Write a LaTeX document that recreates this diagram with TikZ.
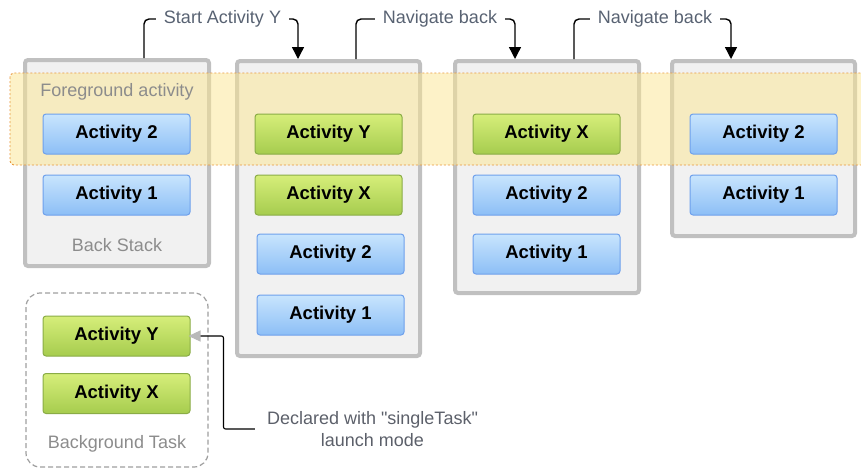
\documentclass[tikz,border=0pt]{standalone}
\usepackage{fontspec}
\setmainfont{Liberation Sans}[Ligatures=TeXOff]
\usetikzlibrary{arrows.meta,calc}
\definecolor{bluetop}{RGB}{200,229,253}
\definecolor{bluebot}{RGB}{140,190,246}
\definecolor{blueline}{RGB}{110,160,236}
\definecolor{greentop}{RGB}{214,238,122}
\definecolor{greenbot}{RGB}{166,204,78}
\definecolor{greenline}{RGB}{138,172,70}
\definecolor{stackgray}{RGB}{192,192,192}
\definecolor{stackfill}{RGB}{241,241,241}
\definecolor{bandfill}{RGB}{252,230,145}
\definecolor{bandline}{RGB}{232,150,60}
\definecolor{lblgray}{RGB}{140,140,140}
\definecolor{topgray}{RGB}{88,98,114}
\definecolor{notegray}{RGB}{92,96,106}
\begin{document}
\begin{tikzpicture}[x=1pt,y=-1pt,
  font=\fontsize{18}{21}\selectfont,
  stackbox/.style={draw=stackgray, line width=4pt, fill=stackfill, rounded corners=3pt, inner sep=0pt},
  act/.style={rounded corners=3pt, minimum width=147pt, minimum height=40pt, inner sep=0pt,
              font=\fontsize{18.5}{21}\selectfont\bfseries, line width=1pt},
  bact/.style={act, draw=blueline, top color=bluetop, bottom color=bluebot},
  gact/.style={act, draw=greenline, top color=greentop, bottom color=greenbot},
  lbl/.style={text=lblgray, inner sep=2pt},
  toplbl/.style={text=topgray, inner xsep=8pt, inner ysep=2pt},
  conn/.style={line width=1.4pt, rounded corners=5pt},
  tipend/.style={-{Triangle[width=12pt,length=12pt]}},
  bgbox/.style={draw=gray!75, line width=1.2pt, dash pattern=on 5pt off 3pt, rounded corners=14pt, fill=white, inner sep=0pt}
]
\useasboundingbox (0,0) rectangle (861,469);

% stacks
\node[stackbox, minimum width=184pt, minimum height=206pt] (s1) at (117,163) {};
\node[stackbox, minimum width=183pt, minimum height=295pt] (s2) at (328.5,208.5) {};
\node[stackbox, minimum width=184pt, minimum height=232pt] (s3) at (547,177) {};
\node[stackbox, minimum width=183pt, minimum height=175pt] (s4) at (763.5,148.5) {};

% foreground band
\fill[bandfill, opacity=.5, rounded corners=4pt] (10,73) rectangle (880,165);
\draw[bandline, line width=0.9pt, dash pattern=on 2pt off 2pt, rounded corners=4pt] (10,73) rectangle (880,165);

% activities
\node[bact] (a12) at (116.5,134) {Activity 2};
\node[bact] (a11) at (116.5,195) {Activity 1};

\node[gact] (a2y) at (328.5,134) {Activity Y};
\node[gact] (a2x) at (328.5,195) {Activity X};
\node[bact] (a22) at (330.5,254) {Activity 2};
\node[bact] (a21) at (330.5,315) {Activity 1};

\node[gact] (a3x) at (546.5,134) {Activity X};
\node[bact] (a32) at (546.5,195) {Activity 2};
\node[bact] (a31) at (546.5,254) {Activity 1};

\node[bact] (a42) at (763.5,134) {Activity 2};
\node[bact] (a41) at (763.5,195) {Activity 1};

% stack labels
\node[lbl] (fg) at (117,92) {Foreground activity};
\node[lbl] (bs) at (117,245) {Back Stack};

% background task
\node[bgbox, minimum width=182pt, minimum height=174pt] (bg) at (117,380) {};
\node[gact] (bgy) at (116.5,336) {Activity Y};
\node[gact] (bgx) at (116.5,393.5) {Activity X};
\node[lbl] (bgl) at (117,444) {Background Task};

% top labels
\node[toplbl] (l1) at (222.5,19) {Start Activity Y};
\node[toplbl] (l2) at (440,19) {Navigate back};
\node[toplbl] (l3) at (655,19) {Navigate back};

\coordinate (c1) at ($(s1.north west)+(121,0)$);
\coordinate (c2) at ($(s2.north west)+(63,0)$);
\coordinate (c3) at ($(s2.north west)+(121,0)$);
\coordinate (c4) at ($(s3.north west)+(62,0)$);
\coordinate (c5) at ($(s3.north west)+(121,0)$);
\coordinate (c6) at ($(s4.north west)+(61,0)$);

\draw[conn] (c1) |- (l1.west);
\draw[conn, tipend] (l1.east) -| (c2);
\draw[conn] (c3) |- (l2.west);
\draw[conn, tipend] (l2.east) -| (c4);
\draw[conn] (c5) |- (l3.west);
\draw[conn, tipend] (l3.east) -| (c6);

% note
\node[text=notegray, align=center, inner xsep=12pt, font=\fontsize{18}{22}\selectfont] (note) at (372.5,429) {Declared with "singleTask"\\launch mode};
\coordinate (nk) at ($(bgy.east)+(33,0)$);
\draw[line width=1.1pt, rounded corners=2pt,
      -{Triangle[width=11pt,length=12pt,color=gray!55]}, shorten >=-2pt] (note.west) -| (nk) -- (bgy.east);
\end{tikzpicture}
\end{document}
